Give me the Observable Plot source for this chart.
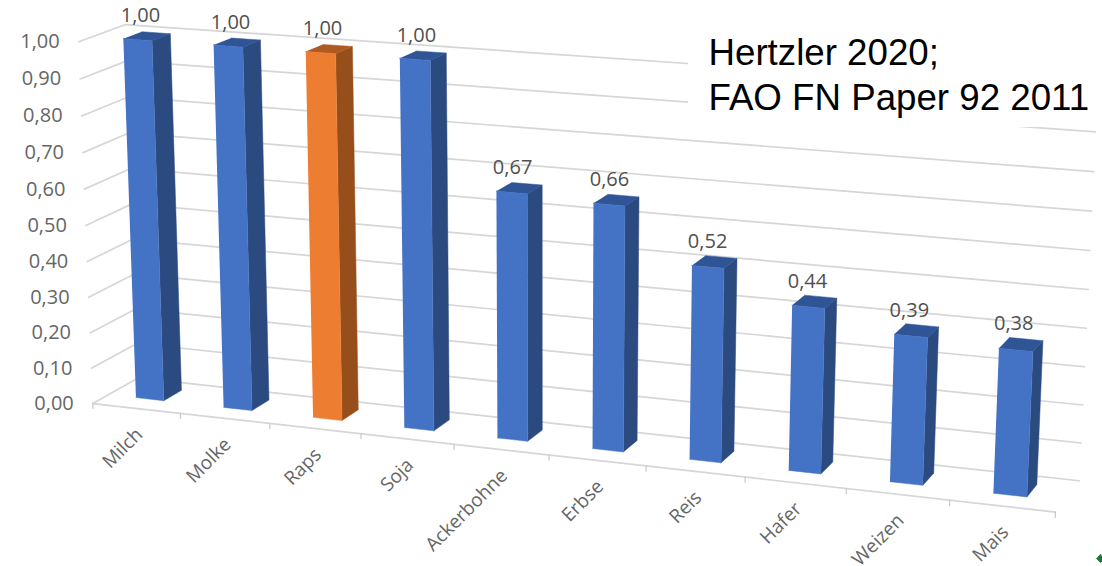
<!DOCTYPE html>
<html><head><meta charset="utf-8">
<script src="https://cdn.jsdelivr.net/npm/d3@7"></script>
<script src="https://cdn.jsdelivr.net/npm/@observablehq/plot@0.6"></script>
<style>html,body{margin:0;padding:0;background:#fff}svg{display:block}</style>
</head><body><div id="chart"></div>
<script>
const categories = ["Milch","Molke","Raps","Soja","Ackerbohne","Erbse","Reis","Hafer","Weizen","Mais"];
const values = [1.00,1.00,1.00,1.00,0.67,0.66,0.52,0.44,0.39,0.38];
const axisTicks = [0,0.1,0.2,0.3,0.4,0.5,0.6,0.7,0.8,0.9,1];
const noteLines = ["Hertzler 2020;","FAO FN Paper 92 2011"];
const highlighted = "Raps";
const palette = {
  normal:{front:"#4472c4",side:"#2a4a80",top:"#2f5597"},
  accent:{front:"#ed7d31",side:"#964f1b",top:"#ae5a21"}
};
const fmt = v => v.toFixed(2).replace(".",",");

// Camera of the 3-D chart box: category u 0..10, value v 0..1, depth w 0..1
const camera = [
 [0,0,0,93,402],[1,0,0,181,412],[2,0,0,270,423],[5,0,0,548,455],[8,0,0,845,488],[10,0,0,1056,512],
 [0,0,1,136,379],[10,0,1,1079,480],[0,1,1,127,23],[10,1,1,1097,92],[10,.5,1,1087,288],
 [0,1,0,77,42],[0,.6,0,83,189]
];
function solveCamera(pts){
  const n=11,A=Array.from({length:n},()=>new Float64Array(n+1));
  const add=(r,b)=>{for(let i=0;i<n;i++){for(let j=0;j<n;j++)A[i][j]+=r[i]*r[j];A[i][n]+=r[i]*b;}};
  for(const [u0,v,w,x0,y0] of pts){
    const u=u0/10,x=x0/1000,y=y0/1000;
    add([u,v,w,1,0,0,0,0,-x*u,-x*v,-x*w],x);
    add([0,0,0,0,u,v,w,1,-y*u,-y*v,-y*w],y);
  }
  for(let c=0;c<n;c++){
    let p=c;for(let r=c+1;r<n;r++)if(Math.abs(A[r][c])>Math.abs(A[p][c]))p=r;
    [A[c],A[p]]=[A[p],A[c]];
    for(let r=0;r<n;r++)if(r!==c){const f=A[r][c]/A[c][c];for(let k=c;k<=n;k++)A[r][k]-=f*A[c][k];}
  }
  return A.map((r,i)=>r[n]/r[i]);
}
const P = solveCamera(camera);
const project = (u0,v,w) => {
  const u=u0/10,d=P[8]*u+P[9]*v+P[10]*w+1;
  return [1000*(P[0]*u+P[1]*v+P[2]*w+P[3])/d,1000*(P[4]*u+P[5]*v+P[6]*w+P[7])/d];
};
const X = d => project(d.u,d.v,d.w)[0];
const Y = d => project(d.u,d.v,d.w)[1];

// walls
const grid = axisTicks.flatMap(v=>[{k:v,u:0,v,w:0},{k:v,u:0,v,w:1},{k:v,u:10,v,w:1}]);
const floorFront = [{u:0,v:0,w:0},{u:10,v:0,w:0}];
const floorTicks = d3.range(0,11).flatMap(u=>[{k:u,u,v:0,w:0},{k:u,u,v:-0.014,w:0}]);

// bars
const barHalf=0.16,w0=0.3,w1=0.7,base=0.004;
const faces=[];
categories.forEach((c,i)=>{
  const h=values[i],a=i+.5-barHalf,b=i+.5+barHalf,col=c===highlighted?palette.accent:palette.normal;
  const face=(name,pts)=>pts.forEach(([u,v,w])=>faces.push({k:c+name,fill:col[name],u,v,w}));
  face("side",[[b,base,w0],[b,base,w1],[b,h,w1],[b,h,w0]]);
  face("top",[[a,h,w0],[b,h,w0],[b,h,w1],[a,h,w1]]);
  face("front",[[a,base,w0],[b,base,w0],[b,h,w0],[a,h,w0]]);
});
const barLabels=categories.map((c,i)=>({u:i+.45,v:values[i],w:.5,t:fmt(values[i])}));
const catLabels=categories.map((c,i)=>({u:i+.5,v:0,w:0,t:c}));
const tickLabels=axisTicks.map(v=>({u:0,v,w:0,t:fmt(v)}));

const font="'Open Sans',sans-serif";
const chart=Plot.plot({
  width:1102,height:566,margin:0,
  style:{background:"#fff",fontFamily:font},
  x:{type:"linear",domain:[0,1102],range:[0,1102],axis:null},
  y:{type:"linear",domain:[0,566],range:[0,566],axis:null},
  color:{type:"identity"},
  marks:[
    Plot.line(grid,{x:X,y:Y,z:"k",stroke:"#d6d6d6",strokeWidth:1.7,curve:"linear"}),
    Plot.line(floorFront,{x:X,y:Y,stroke:"#d6d6d6",strokeWidth:1.7}),
    Plot.line(floorTicks,{x:X,y:Y,z:"k",stroke:"#c8c8c8",strokeWidth:1.2}),
    Plot.line(faces,{x:X,y:Y,z:"k",fill:"fill",stroke:"fill",strokeWidth:.5,curve:"linear"}),
    Plot.text(tickLabels,{x:X,y:Y,text:"t",textAnchor:"end",dx:-19,fontSize:20,fill:"#666"}),
    Plot.text(barLabels,{x:X,y:Y,text:"t",dx:-2,dy:-20,fontSize:20,fill:"#505050"}),
    Plot.text(catLabels,{x:X,y:Y,text:"t",textAnchor:"end",rotate:-45,dx:3,dy:23,fontSize:19,fill:"#666"}),
    Plot.rect([0],{x1:()=>688,x2:()=>1102,y1:()=>0,y2:()=>127,fill:()=>"#fff"}),
    Plot.text(noteLines,{x:()=>708,y:(d,i)=>53+i*45,text:d=>d,textAnchor:"start",fontSize:36.7,fontFamily:"'Liberation Sans',Arial,sans-serif",fill:"#000"}),
    Plot.dot([0],{x:()=>1100,y:()=>558,symbol:"diamond2",r:4,fill:()=>"#1a7a3c"})
  ]
});
document.getElementById("chart").append(chart);
</script></body></html>
